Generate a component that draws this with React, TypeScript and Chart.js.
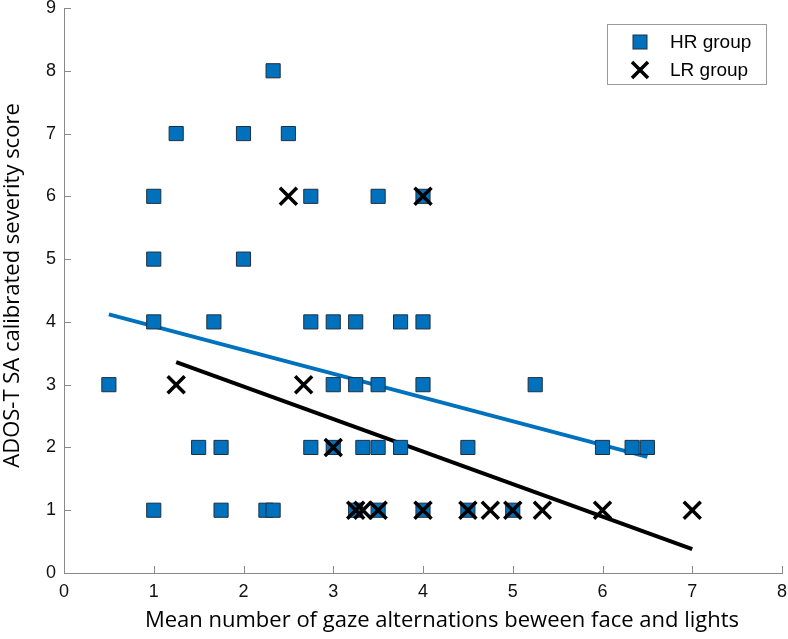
import React, { useEffect, useRef } from "react";
import { Chart, registerables } from "chart.js";

Chart.register(...registerables);

// HR group (blue squares)
const hrX = [
  2.33,
  1.25, 2.0, 2.5,
  1.0, 2.75, 3.5, 4.0,
  1.0, 2.0,
  1.0, 1.67, 2.75, 3.0, 3.25, 3.75, 4.0,
  0.5, 3.0, 3.25, 3.5, 4.0, 5.25,
  1.5, 1.75, 2.75, 3.0, 3.33, 3.5, 3.75, 4.5, 6.0, 6.33, 6.5,
  1.0, 1.75, 2.25, 2.33, 3.25, 3.5, 4.0, 4.5, 5.0,
];
const hrY = [
  8,
  7, 7, 7,
  6, 6, 6, 6,
  5, 5,
  4, 4, 4, 4, 4, 4, 4,
  3, 3, 3, 3, 3, 3,
  2, 2, 2, 2, 2, 2, 2, 2, 2, 2, 2,
  1, 1, 1, 1, 1, 1, 1, 1, 1,
];

// LR group (black crosses)
const lrX = [2.5, 4.0, 1.25, 2.67, 3.0, 3.25, 3.33, 3.5, 4.0, 4.5, 4.75, 5.0, 5.33, 6.0, 7.0];
const lrY = [6, 6, 3, 3, 2, 1, 1, 1, 1, 1, 1, 1, 1, 1, 1];

// Regression lines (end points)
const hrFitX = [0.5, 6.5];
const hrFitY = [4.12, 1.85];
const lrFitX = [1.25, 7.0];
const lrFitY = [3.36, 0.38];

const xTicks = [0, 1, 2, 3, 4, 5, 6, 7, 8];
const yTicks = [0, 1, 2, 3, 4, 5, 6, 7, 8, 9];

const xTitle = "Mean number of gaze alternations beween face and lights";
const yTitle = "ADOS-T SA calibrated severity score";
const legendLabels = ["HR group", "LR group"];

const BLUE = "#0072BD";
const TITLE_FONT = "22px 'Open Sans', sans-serif";

const toPts = (xs: number[], ys: number[]) => xs.map((x, i) => ({ x, y: ys[i] }));

const inwardTicks = {
  id: "inwardTicks",
  afterDraw(chart: any) {
    const { ctx, chartArea, scales } = chart;
    ctx.save();
    ctx.strokeStyle = "#8a8a8a";
    ctx.lineWidth = 1;
    const len = 7;
    scales.x.ticks.forEach((t: any) => {
      const px = Math.round(scales.x.getPixelForValue(t.value)) + 0.5;
      ctx.beginPath();
      ctx.moveTo(px, chartArea.bottom);
      ctx.lineTo(px, chartArea.bottom - len);
      ctx.stroke();
    });
    scales.y.ticks.forEach((t: any) => {
      const py = Math.round(scales.y.getPixelForValue(t.value)) + 0.5;
      ctx.beginPath();
      ctx.moveTo(chartArea.left, py);
      ctx.lineTo(chartArea.left + len, py);
      ctx.stroke();
    });
    ctx.restore();
  },
};

const axisTitles = {
  id: "axisTitles",
  afterDraw(chart: any) {
    const { ctx, chartArea } = chart;
    ctx.save();
    ctx.fillStyle = "#000";
    ctx.font = TITLE_FONT;
    ctx.textAlign = "center";
    ctx.textBaseline = "middle";
    ctx.fillText(xTitle, (chartArea.left + chartArea.right) / 2 + 19, chartArea.bottom + 48);
    ctx.translate(13, (chartArea.top + chartArea.bottom) / 2 - 5);
    ctx.rotate(-Math.PI / 2);
    ctx.fillText(yTitle, 0, 0);
    ctx.restore();
  },
};

const boxLegend = {
  id: "boxLegend",
  afterDraw(chart: any) {
    const { ctx, chartArea } = chart;
    const w = 159;
    const h = 60;
    const right = chartArea.right - 16;
    const left = right - w;
    const top = chartArea.top + 16;
    ctx.save();
    ctx.fillStyle = "#ffffff";
    ctx.fillRect(left, top, w, h);
    ctx.strokeStyle = "#9a9a9a";
    ctx.lineWidth = 1;
    ctx.strokeRect(left + 0.5, top + 0.5, w, h);
    const mx = left + 33;
    const y1 = top + 18;
    const y2 = top + 46;
    ctx.fillStyle = BLUE;
    ctx.fillRect(mx - 7, y1 - 7, 14, 14);
    ctx.strokeStyle = "#1f2f40";
    ctx.strokeRect(mx - 7, y1 - 7, 14, 14);
    ctx.strokeStyle = "#000";
    ctx.lineWidth = 3.5;
    ctx.beginPath();
    ctx.moveTo(mx - 8, y2 - 8);
    ctx.lineTo(mx + 8, y2 + 8);
    ctx.moveTo(mx + 8, y2 - 8);
    ctx.lineTo(mx - 8, y2 + 8);
    ctx.stroke();
    ctx.fillStyle = "#000";
    ctx.font = "19px 'Liberation Sans', Arial, sans-serif";
    ctx.textBaseline = "middle";
    ctx.textAlign = "left";
    ctx.fillText(legendLabels[0], left + 63, y1 + 1);
    ctx.fillText(legendLabels[1], left + 63, y2 + 1);
    ctx.restore();
  },
};

export default function App() {
  const ref = useRef<HTMLCanvasElement>(null);
  useEffect(() => {
    if (!ref.current) return;
    const chart = new Chart(ref.current, {
      type: "scatter",
      data: {
        datasets: [
          {
            label: legendLabels[1],
            data: toPts(lrX, lrY),
            pointStyle: "crossRot",
            pointRadius: 12,
            pointHoverRadius: 12,
            borderColor: "#000",
            backgroundColor: "#000",
            pointBorderWidth: 3.5,
            order: 0,
          },
          {
            label: legendLabels[0],
            data: toPts(hrX, hrY),
            pointStyle: "rect",
            pointRadius: 10,
            pointHoverRadius: 10,
            backgroundColor: BLUE,
            borderColor: "#1f2f40",
            pointBorderWidth: 1,
            order: 1,
          },
          {
            label: "HR fit",
            data: toPts(hrFitX, hrFitY),
            showLine: true,
            pointRadius: 0,
            borderColor: BLUE,
            borderWidth: 4,
            order: 2,
          } as any,
          {
            label: "LR fit",
            data: toPts(lrFitX, lrFitY),
            showLine: true,
            pointRadius: 0,
            borderColor: "#000",
            borderWidth: 4,
            order: 3,
          } as any,
        ],
      },
      options: {
        animation: false,
        responsive: false,
        events: [],
        layout: { autoPadding: false, padding: { top: 8, right: 6, left: 0, bottom: 0 } },
        plugins: {
          legend: { display: false },
          tooltip: { enabled: false },
        },
        scales: {
          x: {
            type: "linear",
            min: 0,
            max: 8,
            afterFit: (s: any) => {
              s.height = 66;
              s.paddingLeft = 0;
              s.paddingRight = 0;
            },
            afterBuildTicks: (s: any) => {
              s.ticks = xTicks.map((v) => ({ value: v }));
            },
            grid: { display: true, drawOnChartArea: false, drawTicks: false },
            border: { display: true, color: "#8a8a8a", width: 1 },
            ticks: {
              padding: 8,
              color: "#111",
              font: { family: "'Liberation Sans', Arial, sans-serif", size: 18 },
            },
            title: { display: false, text: xTitle },
          },
          y: {
            type: "linear",
            min: 0,
            max: 9,
            afterFit: (s: any) => {
              s.width = 64;
              s.paddingTop = 0;
              s.paddingBottom = 0;
            },
            afterBuildTicks: (s: any) => {
              s.ticks = yTicks.map((v) => ({ value: v }));
            },
            grid: { display: true, drawOnChartArea: false, drawTicks: false },
            border: { display: true, color: "#8a8a8a", width: 1 },
            ticks: {
              padding: 8,
              color: "#111",
              font: { family: "'Liberation Sans', Arial, sans-serif", size: 18 },
            },
            title: { display: false, text: yTitle },
          },
        },
      },
      plugins: [inwardTicks, axisTitles, boxLegend],
    });
    return () => chart.destroy();
  }, []);
  return (
    <div style={{ position: "absolute", left: 0, top: 0, width: 788, height: 639, background: "#fff" }}>
      <canvas ref={ref} width={788} height={639} />
    </div>
  );
}
